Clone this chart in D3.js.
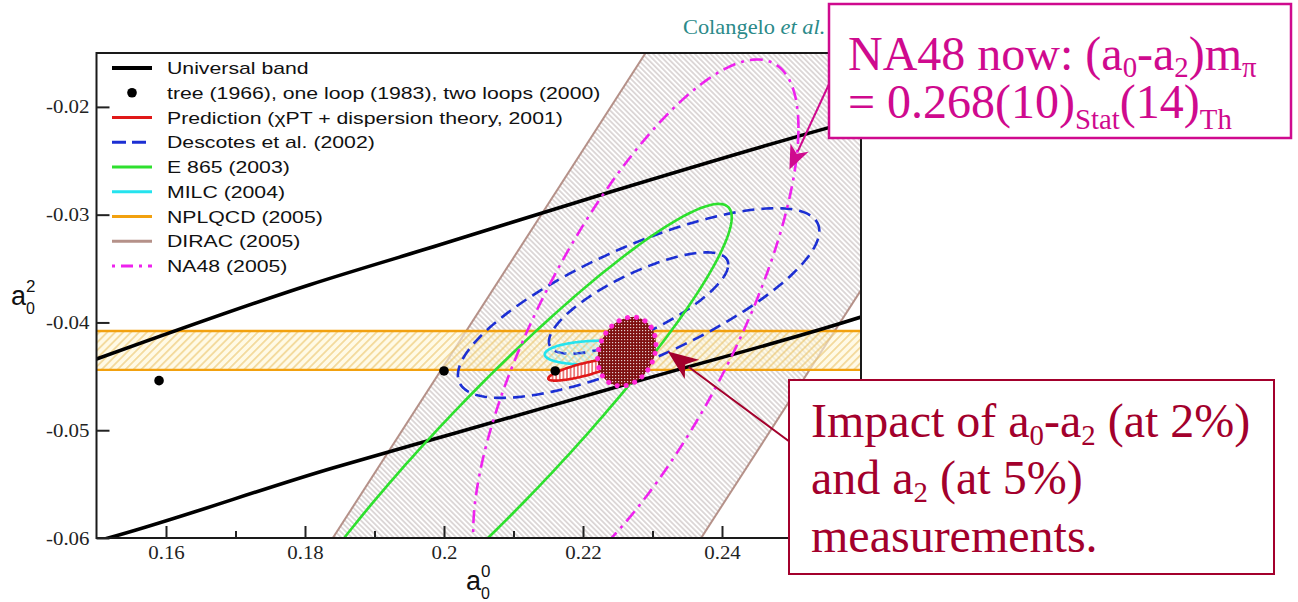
<!DOCTYPE html>
<html>
<head>
<meta charset="utf-8">
<script src="https://cdn.jsdelivr.net/npm/d3@7"></script>
<style>
  html, body { margin: 0; padding: 0; background: #ffffff; }
  svg { display: block; }
</style>
</head>
<body>
<svg id="chart" width="1298" height="602"></svg>
<script>
// ---- axis ticks ----
const xTickValues = [0.16, 0.18, 0.20, 0.22, 0.24];
const xTickLabels = ["0.16", "0.18", "0.2", "0.22", "0.24"];
const xMinorTicks = [0.17, 0.19, 0.21, 0.23, 0.25];
const yTickValues = [-0.06, -0.05, -0.04, -0.03, -0.02];
const yTickLabels = ["-0.06", "-0.05", "-0.04", "-0.03", "-0.02"];

// ---- universal band edges, [a0, a2] ----
const universalUpper = [[0.150, -0.0434], [0.1807, -0.0365], [0.1994, -0.0328], [0.2239, -0.0279], [0.2555, -0.0219], [0.260, -0.0211]];
const universalLower = [[0.150, -0.0603], [0.1517, -0.0600], [0.1840, -0.0535], [0.2009, -0.0504], [0.2286, -0.0453], [0.2570, -0.0401], [0.260, -0.0395]];

// ---- tree (1966), one loop (1983), two loops (2000) ----
const chptA0 = [0.159, 0.200, 0.216];
const chptA2 = [-0.0454, -0.0445, -0.0445];

// ---- NPLQCD (2005): a2 band ----
const nplqcdA2 = -0.0426;
const nplqcdErr = 0.0018;

// ---- DIRAC (2005): a0 - a2 band ----
const diracDiff = 0.264;
const diracErrUp = 0.033;
const diracErrDown = 0.020;

// ---- error ellipses: centre, widths and correlation ----
const ellipseNames = ["Descotes outer", "Descotes inner", "E 865", "NA48", "MILC", "Prediction", "Impact"];
const ellipseA0    = [0.2280, 0.2280, 0.2075, 0.2276, 0.2214, 0.2200, 0.2263];
const ellipseSA0   = [0.0260, 0.0129, 0.0339, 0.0234, 0.0069, 0.0050, 0.0042];
const ellipseA2    = [-0.0382, -0.0382, -0.0518, -0.0407, -0.0428, -0.0444, -0.0427];
const ellipseSA2   = [0.0088, 0.0047, 0.0228, 0.0251, 0.0011, 0.0010, 0.0032];
const ellipseRho   = [0.76, 0.76, 0.945, 0.747, 0.15, 0.80, 0.20];

// ---- legend ----
const legendLabels = [
  "Universal band",
  "tree (1966), one loop (1983), two loops (2000)",
  "Prediction (\u03C7PT + dispersion theory, 2001)",
  "Descotes et al. (2002)",
  "E 865 (2003)",
  "MILC (2004)",
  "NPLQCD (2005)",
  "DIRAC (2005)",
  "NA48 (2005)"
];

// ---- annotation targets [a0, a2] ----
const na48ArrowTip = [0.2497, -0.0258];
const impactArrowTip = [0.2322, -0.0427];

// ------------------------------------------------------------
const svg = d3.select("#chart");
const x = d3.scaleLinear().domain([0.15, 0.26]).range([96.5, 861]);
const y = d3.scaleLinear().domain([-0.06, -0.015]).range([538, 53]);
const plotL = x.range()[0], plotR = x.range()[1];
const plotT = y.range()[1], plotB = y.range()[0];

const defs = svg.append("defs");
defs.append("clipPath").attr("id", "plotClip")
  .append("rect").attr("x", plotL).attr("y", plotT)
  .attr("width", plotR - plotL).attr("height", plotB - plotT);

function hatch(id, size, angle, color, width, bg) {
  const p = defs.append("pattern").attr("id", id)
    .attr("patternUnits", "userSpaceOnUse")
    .attr("width", size).attr("height", size)
    .attr("patternTransform", `rotate(${angle})`);
  if (bg) p.append("rect").attr("width", size).attr("height", size).attr("fill", bg);
  p.append("line").attr("x1", size / 2).attr("y1", 0).attr("x2", size / 2).attr("y2", size)
    .attr("stroke", color).attr("stroke-width", width);
}
hatch("diracHatch", 3.7, -45, "#a89a9a", 0.75, null);
hatch("nplHatch", 5.6, 45, "#e6b84e", 0.9, null);
hatch("cglHatch", 3.6, 0, "#e02222", 1.1, "#ffffff");
hatch("milcHatch", 4, -45, "#8ee6ee", 0.9, null);

// checkered fill for the projected measurement
const chk = defs.append("pattern").attr("id", "impactFill")
  .attr("patternUnits", "userSpaceOnUse").attr("width", 3).attr("height", 3);
chk.append("rect").attr("width", 3).attr("height", 3).attr("fill", "#7e1010");
chk.append("rect").attr("width", 1.2).attr("height", 1.2).attr("fill", "#ffffff").attr("opacity", 0.8);

const plot = svg.append("g").attr("clip-path", "url(#plotClip)");

// DIRAC band: a2 = a0 - (a0 - a2)
const diracLo = diracDiff - diracErrDown, diracHi = diracDiff + diracErrUp;
const a0Ext = [0.12, 0.32];
const diracPoly = [
  [a0Ext[0], a0Ext[0] - diracLo], [a0Ext[1], a0Ext[1] - diracLo],
  [a0Ext[1], a0Ext[1] - diracHi], [a0Ext[0], a0Ext[0] - diracHi]
];
const pxLine = d3.line().x(d => x(d[0])).y(d => y(d[1]));
plot.append("path").attr("d", pxLine(diracPoly) + "Z").attr("fill", "url(#diracHatch)");
[diracLo, diracHi].forEach(c => {
  plot.append("path").attr("d", pxLine([[a0Ext[0], a0Ext[0] - c], [a0Ext[1], a0Ext[1] - c]]))
    .attr("fill", "none").attr("stroke", "#b59189").attr("stroke-width", 2);
});

// NPLQCD band
const nTop = y(nplqcdA2 + nplqcdErr), nBot = y(nplqcdA2 - nplqcdErr);
plot.append("rect").attr("x", plotL).attr("y", nTop).attr("width", plotR - plotL).attr("height", nBot - nTop)
  .attr("fill", "#fff6d6").attr("opacity", 0.6);
plot.append("rect").attr("x", plotL).attr("y", nTop).attr("width", plotR - plotL).attr("height", nBot - nTop)
  .attr("fill", "url(#nplHatch)");
[nTop, nBot].forEach(v => {
  plot.append("line").attr("x1", plotL).attr("x2", plotR).attr("y1", v).attr("y2", v)
    .attr("stroke", "#f2a10f").attr("stroke-width", 2.4);
});

// universal band
const smooth = d3.line().x(d => x(d[0])).y(d => y(d[1])).curve(d3.curveMonotoneX);
[universalUpper, universalLower].forEach(b => {
  plot.append("path").attr("d", smooth(b)).attr("fill", "none")
    .attr("stroke", "#000").attr("stroke-width", 3.6);
});

// ellipses
function ellipsePath(i) {
  const pts = [];
  const n = 240, r = ellipseRho[i], q = Math.sqrt(1 - r * r);
  for (let k = 0; k < n; k++) {
    const t = 2 * Math.PI * k / n;
    const a0 = ellipseA0[i] + ellipseSA0[i] * Math.cos(t);
    const a2 = ellipseA2[i] + ellipseSA2[i] * (r * Math.cos(t) + q * Math.sin(t));
    pts.push([a0, a2]);
  }
  return d3.line().x(d => x(d[0])).y(d => y(d[1])).curve(d3.curveLinearClosed)(pts);
}
const ellStyle = {
  "Descotes outer": { stroke: "#1c2fd3", width: 2.6, dash: "12,7", fill: "none" },
  "Descotes inner": { stroke: "#1c2fd3", width: 2.6, dash: "12,7", fill: "none" },
  "E 865":          { stroke: "#2ee02e", width: 2.6, dash: null, fill: "none" },
  "NA48":           { stroke: "#ee22ee", width: 2.6, dash: "13,6,3,6", fill: "none" },
  "MILC":           { stroke: "#25e3ee", width: 2.6, dash: null, fill: "url(#milcHatch)" },
  "Prediction":     { stroke: "#e01818", width: 2.6, dash: null, fill: "url(#cglHatch)" },
  "Impact":         { stroke: "#ff2ad8", width: 5, dash: "0.1,9", fill: "url(#impactFill)" }
};
ellipseNames.forEach((nm, i) => {
  const s = ellStyle[nm];
  const p = plot.append("path").attr("d", ellipsePath(i))
    .attr("fill", s.fill).attr("stroke", s.stroke).attr("stroke-width", s.width);
  if (s.dash) p.attr("stroke-dasharray", s.dash);
  if (nm === "Impact") p.attr("stroke-linecap", "round");
});

// ChPT points
plot.selectAll("circle.chpt").data(chptA0).enter().append("circle")
  .attr("class", "chpt").attr("cx", d => x(d)).attr("cy", (d, i) => y(chptA2[i]))
  .attr("r", 4.8).attr("fill", "#000");

// frame and axes
svg.append("rect").attr("x", plotL).attr("y", plotT).attr("width", plotR - plotL).attr("height", plotB - plotT)
  .attr("fill", "none").attr("stroke", "#1a1a1a").attr("stroke-width", 2);

const xAxis = svg.append("g").attr("transform", `translate(0,${plotB})`)
  .call(d3.axisBottom(x).tickValues(xTickValues).tickSize(-12).tickSizeOuter(0)
    .tickFormat((d, i) => xTickLabels[i]));
xAxis.select(".domain").remove();
xAxis.selectAll(".tick line").attr("stroke", "#222").attr("stroke-width", 2);
xAxis.selectAll(".tick text").attr("y", null).attr("dy", null)
  .attr("transform", "translate(0,21) scale(1.16,1)")
  .attr("font-family", "'Liberation Serif', 'Times New Roman', serif")
  .attr("font-size", 18).attr("fill", "#222");

const xMinor = svg.append("g").attr("transform", `translate(0,${plotB})`)
  .call(d3.axisBottom(x).tickValues(xMinorTicks).tickSize(-7).tickSizeOuter(0).tickFormat(""));
xMinor.select(".domain").remove();
xMinor.selectAll(".tick line").attr("stroke", "#222").attr("stroke-width", 2);

const yAxis = svg.append("g").attr("transform", `translate(${plotL},0)`)
  .call(d3.axisLeft(y).tickValues(yTickValues).tickSize(-13).tickSizeOuter(0)
    .tickFormat((d, i) => yTickLabels[i]));
yAxis.select(".domain").remove();
yAxis.selectAll(".tick line").attr("stroke", "#222").attr("stroke-width", 2);
yAxis.selectAll(".tick text").attr("x", null).attr("dy", null)
  .attr("transform", "translate(-7,6) scale(1.16,1)")
  .attr("text-anchor", "end")
  .attr("font-family", "'Liberation Serif', 'Times New Roman', serif")
  .attr("font-size", 18).attr("fill", "#222");

// axis titles
function stackedLabel(xp, yp, sup) {
  const g = svg.append("g").attr("transform", `translate(${xp},${yp})`)
    .attr("font-family", "'Liberation Sans', Arial, sans-serif").attr("fill", "#111");
  g.append("text").attr("x", 0).attr("y", 0).attr("font-size", 27).text("a");
  g.append("text").attr("x", 15).attr("y", -13).attr("font-size", 17).text(sup);
  g.append("text").attr("x", 15).attr("y", 9).attr("font-size", 16).text("0");
}
stackedLabel(466, 590, "0");
stackedLabel(11, 305, "2");

// legend
const legend = svg.append("g");
const legY0 = 68, legDy = 24.75, legX1 = 112, legX2 = 152, legTx = 167;
const legStyle = [
  { type: "line", stroke: "#000", width: 4 },
  { type: "dot" },
  { type: "line", stroke: "#e01818", width: 3 },
  { type: "line", stroke: "#1c2fd3", width: 3, dash: "14,6" },
  { type: "line", stroke: "#2ee02e", width: 3 },
  { type: "line", stroke: "#25e3ee", width: 3 },
  { type: "line", stroke: "#f2a10f", width: 3 },
  { type: "line", stroke: "#b59189", width: 3 },
  { type: "line", stroke: "#ee22ee", width: 3, dash: "3,6,12,6" }
];
legendLabels.forEach((lab, i) => {
  const yy = legY0 + i * legDy;
  const st = legStyle[i];
  if (st.type === "dot") {
    legend.append("circle").attr("cx", (legX1 + legX2) / 2).attr("cy", yy).attr("r", 4.8).attr("fill", "#000");
  } else {
    const l = legend.append("line").attr("x1", legX1).attr("x2", legX2).attr("y1", yy).attr("y2", yy)
      .attr("stroke", st.stroke).attr("stroke-width", st.width);
    if (st.dash) l.attr("stroke-dasharray", st.dash);
  }
  legend.append("text").attr("transform", `translate(${legTx},${yy + 6}) scale(1.25,1)`)
    .attr("font-family", "'Liberation Sans', Arial, sans-serif").attr("font-size", 17)
    .attr("fill", "#111").text(lab);
});

// source credit
const cred = svg.append("text").attr("transform", "translate(683,34) scale(1.12,1)")
  .attr("font-family", "'Liberation Serif', 'Times New Roman', serif").attr("font-size", 20)
  .attr("fill", "#2b8a89");
cred.append("tspan").text("Colangelo ");
cred.append("tspan").attr("font-style", "italic").text("et al.");

// arrows
function arrow(x1, y1, x2, y2, color, w, len, half) {
  const dx = x2 - x1, dy = y2 - y1, L = Math.hypot(dx, dy);
  const ux = dx / L, uy = dy / L, nx = -uy, ny = ux;
  const bx = x2 - ux * len, by = y2 - uy * len;
  svg.append("line").attr("x1", x1).attr("y1", y1).attr("x2", bx + ux * 4).attr("y2", by + uy * 4)
    .attr("stroke", color).attr("stroke-width", w);
  const notch = [x2 - ux * len * 0.72, y2 - uy * len * 0.72];
  svg.append("path").attr("d",
    `M${x2},${y2}L${bx + nx * half},${by + ny * half}L${notch[0]},${notch[1]}L${bx - nx * half},${by - ny * half}Z`)
    .attr("fill", color);
}

// NA48 callout
const magenta = "#cf0a8e";
arrow(830, 82, x(na48ArrowTip[0]), y(na48ArrowTip[1]), magenta, 2, 24, 10);
svg.append("rect").attr("x", 829).attr("y", 4).attr("width", 462).attr("height", 134)
  .attr("fill", "#fff").attr("stroke", magenta).attr("stroke-width", 2.5);

function richLine(g, xp, yp, parts, size, color, drop) {
  const t = g.append("text").attr("x", xp).attr("y", yp)
    .attr("font-family", "'Liberation Serif', 'Times New Roman', serif")
    .attr("font-size", size).attr("fill", color);
  let shifted = false;
  parts.forEach(p => {
    const s = t.append("tspan").text(p[0]);
    if (p[1] === "sub") {
      s.attr("font-size", size * 0.6).attr("dy", shifted ? 0 : drop);
      shifted = true;
    } else {
      if (shifted) s.attr("dy", -drop);
      shifted = false;
    }
  });
  return t;
}
const na48Text = svg.append("g");
richLine(na48Text, 848, 70, [["NA48 now: (a"], ["0", "sub"], ["-a"], ["2", "sub"], [")m"], ["\u03C0", "sub"]], 48, magenta, 7);
richLine(na48Text, 848, 118, [["= 0.268(10)"], ["Stat", "sub"], ["(14)"], ["Th", "sub"]], 48, magenta, 11);

// impact callout
const darkRed = "#a3002c";
arrow(790, 442, x(impactArrowTip[0]), y(impactArrowTip[1]), darkRed, 2, 30, 12);
svg.append("rect").attr("x", 789).attr("y", 380).attr("width", 485).attr("height", 194)
  .attr("fill", "#fff").attr("stroke", darkRed).attr("stroke-width", 2);
const impText = svg.append("g");
richLine(impText, 811, 437, [["Impact of a"], ["0", "sub"], ["-a"], ["2", "sub"], [" (at 2%)"]], 48, darkRed, 8);
richLine(impText, 811, 494, [["and a"], ["2", "sub"], [" (at 5%)"]], 48, darkRed, 8);
richLine(impText, 811, 552, [["measurements."]], 48, darkRed, 8);
</script>
</body>
</html>
